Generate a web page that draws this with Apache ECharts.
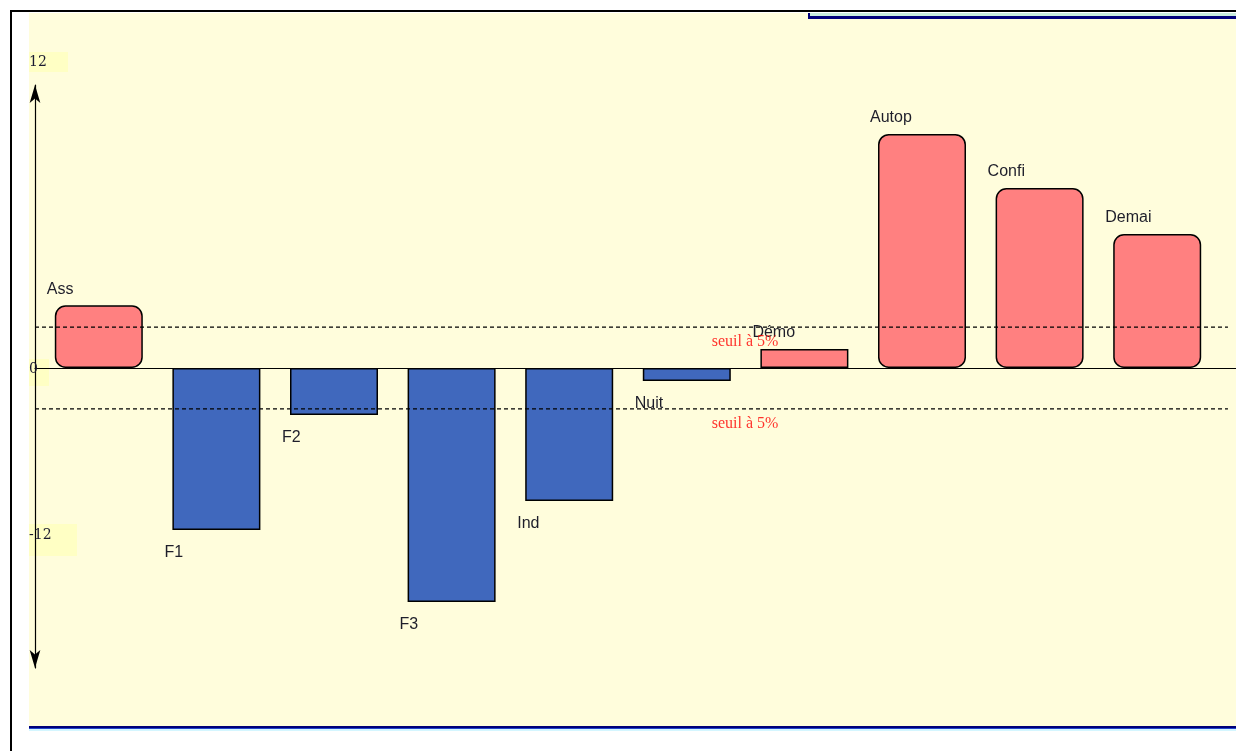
<!DOCTYPE html>
<html>
<head>
<meta charset="utf-8">
<script src="https://cdn.jsdelivr.net/npm/echarts@6/dist/echarts.min.js"></script>
<style>
html,body{margin:0;padding:0;background:#fff;}
#c{width:1236px;height:751px;}
</style>
</head>
<body>
<div id="c"></div>
<script>
const categories = ['Ass','F1','F2','F3','Ind','Nuit','Démo','Autop','Confi','Demai'];
const values = [3.0, -7.75, -2.25, -11.2, -6.36, -0.62, 0.91, 11.2, 8.61, 6.41];
const thresholdValue = 1.96;
const thresholdLabel = 'seuil à 5%';
const tickLabels = ['12', '0', '-12'];

const Y_MIN = -14.354, Y_MAX = 13.541;
const POS = '#ff8080', NEG = '#4068bd';

const barData = values.map(v => ({
  value: v,
  itemStyle: { color: v >= 0 ? POS : NEG, borderRadius: v >= 2 ? 10 : 0 },
  label: v >= 0 ? { position: 'top', distance: 8 } : { position: 'bottom', distance: 15 }
}));

const tickBoxes = [
  { x: 29, y: 52, w: 39, h: 20 },
  { x: 29, y: 359, w: 20, h: 27 },
  { x: 29, y: 524, w: 48, h: 32 }
];
const tickTextY = [62, 369, 535];

const graphics = [
  { type: 'rect', shape: { x: 29, y: 13, width: 1207, height: 714 }, style: { fill: '#fffddc' }, z: -10, silent: true },
  { type: 'rect', shape: { x: 10, y: 10, width: 1226, height: 2 }, style: { fill: '#000' }, z: -5 },
  { type: 'rect', shape: { x: 10, y: 10, width: 2, height: 741 }, style: { fill: '#000' }, z: -5 },
  { type: 'rect', shape: { x: 29, y: 726, width: 1207, height: 2 }, style: { fill: '#00007a' }, z: -5 },
  { type: 'rect', shape: { x: 29, y: 728, width: 1207, height: 1 }, style: { fill: '#2244cc' }, z: -5 },
  { type: 'rect', shape: { x: 29, y: 729, width: 1207, height: 2 }, style: { fill: '#d4f6ff' }, z: -5 },
  { type: 'rect', shape: { x: 810, y: 13, width: 426, height: 3 }, style: { fill: '#c8ecdc' }, z: -5 },
  { type: 'rect', shape: { x: 808, y: 16, width: 428, height: 3 }, style: { fill: '#00007a' }, z: -5 },
  { type: 'rect', shape: { x: 808, y: 13, width: 2, height: 6 }, style: { fill: '#00007a' }, z: -5 }
];
tickLabels.forEach((t, i) => {
  const b = tickBoxes[i];
  graphics.push({ type: 'rect', shape: { x: b.x, y: b.y, width: b.w, height: b.h }, style: { fill: '#ffffc4' }, z: -4 });
  graphics.push({ type: 'text', x: 29, y: tickTextY[i], style: { text: t, fill: '#1a1a30', font: '14px "DejaVu Serif", "Liberation Serif", serif', verticalAlign: 'middle', textAlign: 'left' }, z: 10 });
});

const chart = echarts.init(document.getElementById('c'), null, { renderer: 'canvas' });
chart.setOption({
  animation: false,
  backgroundColor: '#ffffff',
  graphic: graphics,
  grid: [
    { left: 40, right: 20, top: 85, bottom: 83 },
    { left: 35, right: 0, top: 85, bottom: 83 }
  ],
  xAxis: [
    { type: 'category', gridIndex: 0, data: categories, show: false },
    { type: 'value', gridIndex: 1, min: 0, max: 1,
      axisLine: { show: true, onZero: true, lineStyle: { color: '#000', width: 1.2 } },
      axisTick: { show: false }, axisLabel: { show: false }, splitLine: { show: false }, z: 6 }
  ],
  yAxis: [
    { type: 'value', gridIndex: 0, min: Y_MIN, max: Y_MAX, show: false },
    { type: 'value', gridIndex: 1, min: Y_MIN, max: Y_MAX,
      axisLine: { show: true, onZero: false, symbol: ['arrow', 'arrow'], symbolSize: [8, 18], lineStyle: { color: '#000', width: 1.2 } },
      axisTick: { show: false }, axisLabel: { show: false }, splitLine: { show: false } }
  ],
  series: [
    {
      type: 'bar', xAxisIndex: 0, yAxisIndex: 0, data: barData, barWidth: 88,
      itemStyle: { borderColor: '#000', borderWidth: 1.5 },
      label: { show: true, formatter: p => categories[p.dataIndex], align: 'left', offset: [-52, 0],
        color: '#1e1e2a', fontSize: 16, fontFamily: '"Liberation Sans", Arial, sans-serif' },
      z: 2
    },
    {
      type: 'line', xAxisIndex: 1, yAxisIndex: 1, symbol: 'none', silent: true,
      data: [[0, thresholdValue], [0.9933, thresholdValue]],
      lineStyle: { color: '#000', width: 1.3, type: [4, 3] }, z: 5
    },
    {
      type: 'line', xAxisIndex: 1, yAxisIndex: 1, symbol: 'none', silent: true,
      data: [[0, -thresholdValue], [0.9933, -thresholdValue]],
      lineStyle: { color: '#000', width: 1.3, type: [4, 3] }, z: 5
    },
    {
      type: 'scatter', xAxisIndex: 1, yAxisIndex: 1, symbolSize: 0, silent: true,
      data: [[0.5912, thresholdValue], [0.5912, -thresholdValue]],
      label: { show: true, position: 'bottom', distance: 7, formatter: thresholdLabel,
        color: '#ff0000', fontSize: 16, fontFamily: '"Liberation Serif", "Times New Roman", serif' },
      z: 7
    }
  ]
});
</script>
</body>
</html>
